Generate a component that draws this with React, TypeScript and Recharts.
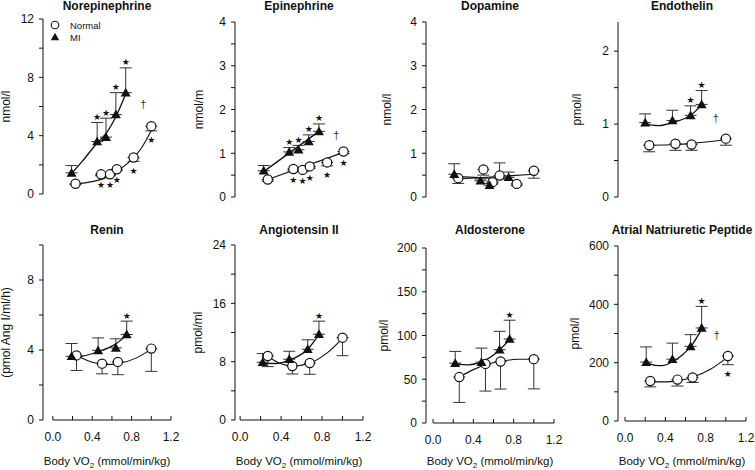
import React from "react";
import {
  ComposedChart,
  ErrorBar,
  Label,
  Line,
  ReferenceLine,
  Scatter,
  XAxis,
  YAxis,
} from "recharts";

type Pair = [number, number];

const FONT = '"Liberation Sans", Arial, Helvetica, sans-serif';
const INK = "#111";
const BAR = "#333";

const legendNames = ["Normal", "MI"];
const xTicks = [0, 0.2, 0.4, 0.6, 0.8, 1.0, 1.2];
const xLabelTicks = [0, 0.4, 0.8, 1.2];

// Norepinephrine
const neNormX = [0.23, 0.49, 0.58, 0.65, 0.82, 1.0];
const neNormY = [0.7, 1.35, 1.35, 1.7, 2.5, 4.65];
const neNormErr = [-0.06, -0.1, -0.1, -0.1, -0.26, -0.32];
const neNormStar = [0, 1, 1, 1, 1, 1];
const neMiX = [0.19, 0.45, 0.54, 0.64, 0.74];
const neMiY = [1.45, 3.6, 3.9, 5.45, 6.95];
const neMiErr = [0.5, 1.3, 1.3, 1.5, 1.7];
const neMiStar = [0, 1, 1, 1, 1];
const neNormFit: Pair[] = [[0.23, 0.7], [0.4, 0.85], [0.55, 1.15], [0.65, 1.55], [0.8, 2.35], [0.9, 3.15], [1.0, 4.35]];
const neMiFit: Pair[] = [[0.19, 1.4], [0.3, 2.25], [0.45, 3.5], [0.54, 4.15], [0.64, 5.3], [0.74, 6.85]];
const neDagger: Pair = [0.92, 6.15];

// Epinephrine
const epNormX = [0.27, 0.52, 0.61, 0.68, 0.85, 1.01];
const epNormY = [0.4, 0.64, 0.62, 0.7, 0.79, 1.04];
const epNormErr = [-0.04, -0.04, -0.04, -0.04, -0.08, -0.05];
const epNormStar = [0, 1, 1, 1, 1, 1];
const epMiX = [0.23, 0.48, 0.57, 0.67, 0.77];
const epMiY = [0.6, 1.03, 1.08, 1.27, 1.5];
const epMiErr = [0.12, 0.1, 0.1, 0.15, 0.17];
const epMiStar = [0, 1, 1, 1, 1];
const epNormFit: Pair[] = [[0.27, 0.4], [1.01, 1.02]];
const epMiFit: Pair[] = [[0.23, 0.58], [0.77, 1.5]];
const epDagger: Pair = [0.94, 1.42];

// Dopamine
const dpNormX = [0.25, 0.5, 0.59, 0.66, 0.83, 1.0];
const dpNormY = [0.43, 0.63, 0.34, 0.49, 0.3, 0.6];
const dpNormErr = [-0.12, -0.13, -0.04, 0.29, -0.04, -0.17];
const dpMiX = [0.21, 0.47, 0.56, 0.75];
const dpMiY = [0.52, 0.37, 0.27, 0.45];
const dpMiErr = [0.24, 0.04, 0.04, 0.12];
const dpNormFit: Pair[] = [[0.25, 0.41], [1.0, 0.52]];
const dpMiFit: Pair[] = [[0.21, 0.47], [0.75, 0.41]];

// Endothelin
const enNormX = [0.24, 0.5, 0.66, 1.0];
const enNormY = [0.71, 0.73, 0.72, 0.8];
const enNormErr = [-0.09, -0.09, -0.08, -0.09];
const enMiX = [0.2, 0.47, 0.65, 0.76];
const enMiY = [1.02, 1.05, 1.12, 1.27];
const enMiErr = [0.12, 0.14, 0.13, 0.19];
const enMiStar = [0, 0, 1, 1];
const enNormFit: Pair[] = [[0.24, 0.71], [0.5, 0.72], [0.66, 0.735], [1.0, 0.785]];
const enMiFit: Pair[] = [[0.2, 1.0], [0.33, 0.98], [0.47, 1.02], [0.65, 1.12], [0.76, 1.26]];
const enDagger: Pair = [0.9, 1.09];

// Renin
const rnNormX = [0.24, 0.5, 0.66, 1.0];
const rnNormY = [3.69, 3.22, 3.32, 4.08];
const rnNormErr = [-0.86, -0.58, -0.73, -1.3];
const rnMiX = [0.19, 0.46, 0.64, 0.75];
const rnMiY = [3.64, 3.98, 4.12, 4.89];
const rnMiErr = [0.73, 0.71, 0.52, 0.76];
const rnMiStar = [0, 0, 0, 1];
const rnNormFit: Pair[] = [[0.24, 3.68], [0.4, 3.3], [0.55, 3.17], [0.66, 3.22], [0.85, 3.55], [1.0, 4.05]];
const rnMiFit: Pair[] = [[0.19, 3.6], [0.3, 3.65], [0.46, 3.9], [0.64, 4.35], [0.75, 4.85]];

// Angiotensin II
const anNormX = [0.27, 0.51, 0.68, 1.0];
const anNormY = [8.78, 7.41, 7.82, 11.29];
const anNormErr = [-1.46, -1.1, -1.55, -2.47];
const anMiX = [0.22, 0.48, 0.66, 0.77];
const anMiY = [7.91, 8.33, 9.7, 11.76];
const anMiErr = [1.2, 1.1, 1.3, 1.8];
const anMiStar = [0, 0, 0, 1];
const anNormFit: Pair[] = [[0.27, 8.7], [0.4, 7.7], [0.51, 7.4], [0.68, 7.8], [0.85, 9.2], [1.0, 11.2]];
const anMiFit: Pair[] = [[0.22, 7.8], [0.35, 7.75], [0.48, 8.2], [0.66, 9.7], [0.77, 11.7]];

// Aldosterone
const alNormX = [0.26, 0.52, 0.67, 1.0];
const alNormY = [52.5, 67.5, 70.3, 73];
const alNormErr = [-29, -31, -31.5, -34];
const alMiX = [0.22, 0.48, 0.66, 0.76];
const alMiY = [68.4, 69.6, 83.8, 96];
const alMiErr = [13.4, 16, 21, 21.5];
const alMiStar = [0, 0, 0, 1];
const alNormFit: Pair[] = [[0.26, 52.5], [0.4, 61], [0.52, 66.5], [0.67, 70.5], [0.85, 72.8], [1.0, 73.2]];
const alMiFit: Pair[] = [[0.22, 67.5], [0.35, 66.5], [0.48, 69.8], [0.66, 83.5], [0.76, 95.5]];

// Atrial natriuretic peptide
const npNormX = [0.25, 0.52, 0.67, 1.02];
const npNormY = [137, 142, 149, 223];
const npNormErr = [-20, -22, -17, -30];
const npNormStar = [0, 0, 0, 1];
const npMiX = [0.21, 0.47, 0.65, 0.76];
const npMiY = [202, 212, 256, 319];
const npMiErr = [52, 55, 40, 74];
const npMiStar = [0, 0, 0, 1];
const npNormFit: Pair[] = [[0.25, 135], [0.4, 134], [0.52, 138], [0.67, 150], [0.85, 178], [1.02, 220]];
const npMiFit: Pair[] = [[0.21, 200], [0.3, 191], [0.37, 190], [0.47, 203], [0.58, 230], [0.65, 254], [0.76, 315]];
const npDagger: Pair = [0.91, 294];

interface Series {
  x: number[];
  y: number[];
  err: number[];
  star?: number[];
}

interface PanelDef {
  title: string;
  unit: string;
  yMax: number;
  yTicks: number[];
  normal: Series;
  mi: Series;
  normalFit: Pair[];
  miFit: Pair[];
  dagger?: Pair;
  col: number;
  row: number;
  plotTop: number;
  xMin: number;
  unitDx: number;
}

// layout of the 2 x 4 grid
const AXIS_X = [43, 235, 426, 618];
const Y_AXIS_W = 43;
const PLOT_W = 128;
const PLOT_H = 175;
const PAD_L = 20;
const PAD_R = 14;
const PAD_V = 10;
const X_TITLE_BASELINE = 465;

const panels: PanelDef[] = [
  {
    title: "Norepinephrine", unit: "nmol/l", yMax: 12, yTicks: [0, 4, 8, 12],
    normal: { x: neNormX, y: neNormY, err: neNormErr, star: neNormStar },
    mi: { x: neMiX, y: neMiY, err: neMiErr, star: neMiStar },
    normalFit: neNormFit, miFit: neMiFit, dagger: neDagger,
    col: 0, row: 0, plotTop: 19, xMin: -0.1, unitDx: -37,
  },
  {
    title: "Epinephrine", unit: "nmol/m", yMax: 4, yTicks: [0, 1, 2, 3, 4],
    normal: { x: epNormX, y: epNormY, err: epNormErr, star: epNormStar },
    mi: { x: epMiX, y: epMiY, err: epMiErr, star: epMiStar },
    normalFit: epNormFit, miFit: epMiFit, dagger: epDagger,
    col: 1, row: 0, plotTop: 22, xMin: -0.05, unitDx: -36,
  },
  {
    title: "Dopamine", unit: "nmol/l", yMax: 4, yTicks: [0, 1, 2, 3, 4],
    normal: { x: dpNormX, y: dpNormY, err: dpNormErr },
    mi: { x: dpMiX, y: dpMiY, err: dpMiErr },
    normalFit: dpNormFit, miFit: dpMiFit,
    col: 2, row: 0, plotTop: 22, xMin: -0.07, unitDx: -39,
  },
  {
    title: "Endothelin", unit: "pmol/l", yMax: 2.4, yTicks: [0, 1, 2],
    normal: { x: enNormX, y: enNormY, err: enNormErr },
    mi: { x: enMiX, y: enMiY, err: enMiErr, star: enMiStar },
    normalFit: enNormFit, miFit: enMiFit, dagger: enDagger,
    col: 3, row: 0, plotTop: 22, xMin: -0.07, unitDx: -41,
  },
  {
    title: "Renin", unit: "(pmol Ang I/ml/h)", yMax: 10, yTicks: [0, 4, 8],
    normal: { x: rnNormX, y: rnNormY, err: rnNormErr },
    mi: { x: rnMiX, y: rnMiY, err: rnMiErr, star: rnMiStar },
    normalFit: rnNormFit, miFit: rnMiFit,
    col: 0, row: 1, plotTop: 245, xMin: -0.1, unitDx: -37,
  },
  {
    title: "Angiotensin II", unit: "pmol/ml", yMax: 24, yTicks: [0, 8, 16, 24],
    normal: { x: anNormX, y: anNormY, err: anNormErr },
    mi: { x: anMiX, y: anMiY, err: anMiErr, star: anMiStar },
    normalFit: anNormFit, miFit: anMiFit,
    col: 1, row: 1, plotTop: 245, xMin: -0.05, unitDx: -37,
  },
  {
    title: "Aldosterone", unit: "pmol/l", yMax: 200, yTicks: [0, 50, 100, 150, 200],
    normal: { x: alNormX, y: alNormY, err: alNormErr },
    mi: { x: alMiX, y: alMiY, err: alMiErr, star: alMiStar },
    normalFit: alNormFit, miFit: alMiFit,
    col: 2, row: 1, plotTop: 248, xMin: -0.07, unitDx: -42,
  },
  {
    title: "Atrial Natriuretic Peptide", unit: "pmol/l", yMax: 600, yTicks: [0, 200, 400, 600],
    normal: { x: npNormX, y: npNormY, err: npNormErr, star: npNormStar },
    mi: { x: npMiX, y: npMiY, err: npMiErr, star: npMiStar },
    normalFit: npNormFit, miFit: npMiFit, dagger: npDagger,
    col: 3, row: 1, plotTop: 246, xMin: -0.07, unitDx: -43,
  },
];

function toRows(s: Series) {
  return s.x.map((x, i) => ({
    x,
    y: s.y[i],
    err: s.err[i] >= 0 ? [0, s.err[i]] : [-s.err[i], 0],
  }));
}

// stars sit beyond the end of the error bar: below for Normal, above for MI
function starRows(s: Series, side: number) {
  if (!s.star) return [];
  return s.x.flatMap((x, i) =>
    s.star![i]
      ? [{ x, y: s.y[i] + (side > 0 ? Math.max(s.err[i], 0) : Math.min(s.err[i], 0)), side }]
      : []
  );
}

const fitRows = (fit: Pair[]) => fit.map(([x, y]) => ({ x, y }));

function allYTicks(major: number[], yMax: number) {
  const half = (major[1] - major[0]) / 2;
  const out: number[] = [];
  for (let k = 0; k * half <= yMax + 1e-9; k++) out.push(Math.round(k * half * 1000) / 1000);
  return out;
}

const OpenCircle = (p: any) => (
  <circle cx={p.cx} cy={p.cy} r={4.6} fill="#fff" stroke={INK} strokeWidth={1.2} />
);

const FilledTriangle = (p: any) => {
  const { cx, cy } = p;
  return (
    <polygon
      points={`${cx},${cy - 4.9} ${cx - 5},${cy + 3.8} ${cx + 5},${cy + 3.8}`}
      fill={INK}
    />
  );
};

const StarMark = (p: any) => {
  const side = p.payload?.side ?? p.side ?? 1;
  const y = side > 0 ? p.cy - 2.5 : p.cy + 12.5;
  return (
    <text x={p.cx} y={y} textAnchor="middle" fontSize={9} fontFamily="DejaVu Sans" fill={INK}>
      ★
    </text>
  );
};

const DaggerMark = (p: any) => (
  <text x={p.cx} y={p.cy + 4} textAnchor="middle" fontSize={11} fontFamily={FONT} fill="#333">
    †
  </text>
);

function Panel({ def }: { def: PanelDef }) {
  const bottom = def.row === 1;
  const axisX = AXIS_X[def.col];
  const width = PAD_L + Y_AXIS_W + PLOT_W + PAD_R;
  const height = PAD_V + PLOT_H + (bottom ? 46 + 4 : PAD_V);
  const yAll = allYTicks(def.yTicks, def.yMax);
  const tickStyle = { fill: INK, fontSize: 12, fontFamily: FONT };
  const stars = [...starRows(def.normal, -1), ...starRows(def.mi, 1)];
  const titleDy = X_TITLE_BASELINE - (def.plotTop + PLOT_H);

  return (
    <div style={{ position: "absolute", left: axisX - Y_AXIS_W - PAD_L, top: def.plotTop - PAD_V }}>
      <ComposedChart
        width={width}
        height={height}
        margin={{ top: PAD_V, right: PAD_R, bottom: bottom ? 4 : PAD_V, left: PAD_L }}
      >
        <XAxis
          type="number"
          dataKey="x"
          domain={[def.xMin, 1.2]}
          ticks={xTicks}
          interval={0}
          hide={!bottom}
          height={46}
          axisLine={false}
          tickLine={{ stroke: INK }}
          tickSize={-4}
          tickMargin={16}
          tick={tickStyle}
          tickFormatter={(v: number) => (xLabelTicks.some((t) => Math.abs(t - v) < 1e-6) ? v.toFixed(1) : "")}
        >
          <Label
            content={(p: any) => {
              const vb = p.viewBox || {};
              return (
                <text
                  x={vb.x + vb.width / 2}
                  y={vb.y + titleDy}
                  textAnchor="middle"
                  fontSize={11.5}
                  fontFamily={FONT}
                  fill={INK}
                >
                  Body VO
                  <tspan fontSize={8} dy={3}>2</tspan>
                  <tspan dy={-3}> (mmol/min/kg)</tspan>
                </text>
              );
            }}
          />
        </XAxis>
        <YAxis
          type="number"
          dataKey="y"
          domain={[0, def.yMax]}
          ticks={yAll}
          interval={0}
          width={Y_AXIS_W}
          axisLine={{ stroke: INK }}
          tickLine={{ stroke: INK }}
          tickSize={4}
          tickMargin={5}
          tick={tickStyle}
          tickFormatter={(v: number) => (def.yTicks.some((t) => Math.abs(t - v) < 1e-6) ? String(v) : "")}
        >
          <Label
            content={(p: any) => {
              const vb = p.viewBox || {};
              const cx = vb.x + vb.width + def.unitDx;
              const cy = vb.y + vb.height / 2;
              return (
                <text
                  x={cx}
                  y={cy}
                  dy="0.35em"
                  transform={`rotate(-90 ${cx} ${cy})`}
                  textAnchor="middle"
                  fontSize={12}
                  fontFamily={FONT}
                  fill={INK}
                >
                  {def.unit}
                </text>
              );
            }}
          />
        </YAxis>
        {bottom && (
          <ReferenceLine
            segment={[{ x: 0, y: 0 }, { x: 1.2, y: 0 }]}
            stroke={INK}
            ifOverflow="visible"
          />
        )}
        <Line
          data={fitRows(def.normalFit)}
          dataKey="y"
          type="monotone"
          stroke={INK}
          strokeWidth={1.1}
          dot={false}
          activeDot={false}
          isAnimationActive={false}
        />
        <Line
          data={fitRows(def.miFit)}
          dataKey="y"
          type="monotone"
          stroke={INK}
          strokeWidth={1.3}
          dot={false}
          activeDot={false}
          isAnimationActive={false}
        />
        <Scatter data={toRows(def.normal)} dataKey="y" shape={OpenCircle} isAnimationActive={false}>
          <ErrorBar dataKey="err" direction="y" width={6} stroke={BAR} strokeWidth={1} isAnimationActive={false} />
        </Scatter>
        <Scatter data={toRows(def.mi)} dataKey="y" shape={FilledTriangle} isAnimationActive={false}>
          <ErrorBar dataKey="err" direction="y" width={6} stroke={BAR} strokeWidth={1} isAnimationActive={false} />
        </Scatter>
        {stars.length > 0 && (
          <Scatter data={stars} dataKey="y" shape={StarMark} isAnimationActive={false} />
        )}
        {def.dagger && (
          <Scatter
            data={[{ x: def.dagger[0], y: def.dagger[1] }]}
            dataKey="y"
            shape={DaggerMark}
            isAnimationActive={false}
          />
        )}
      </ComposedChart>
    </div>
  );
}

function PanelTitle({ def }: { def: PanelDef }) {
  return (
    <div
      style={{
        position: "absolute",
        left: AXIS_X[def.col] - 20,
        width: PLOT_W + 40,
        top: def.row === 0 ? -1.5 : 222.5,
        textAlign: "center",
        fontFamily: FONT,
        fontSize: 12,
        fontWeight: "bold",
        lineHeight: "14px",
        color: INK,
        whiteSpace: "nowrap",
      }}
    >
      {def.title}
    </div>
  );
}

function LegendBox() {
  return (
    <svg width={60} height={30} style={{ position: "absolute", left: 48, top: 18 }}>
      <circle cx={7} cy={7} r={3.8} fill="#fff" stroke={INK} strokeWidth={1.1} />
      <polygon points="7,14.8 2.8,22.2 11.2,22.2" fill={INK} />
      {legendNames.map((name, i) => (
        <text key={name} x={22} y={10.5 + i * 12} fontSize={9.5} fontFamily={FONT} fill={INK}>
          {name}
        </text>
      ))}
    </svg>
  );
}

export default function App() {
  return (
    <div
      style={{
        position: "absolute",
        left: 0,
        top: 0,
        width: 755,
        height: 470,
        background: "#fff",
        overflow: "hidden",
      }}
    >
      {panels.map((p) => (
        <Panel key={p.title} def={p} />
      ))}
      {panels.map((p) => (
        <PanelTitle key={p.title + "-t"} def={p} />
      ))}
      <LegendBox />
    </div>
  );
}
